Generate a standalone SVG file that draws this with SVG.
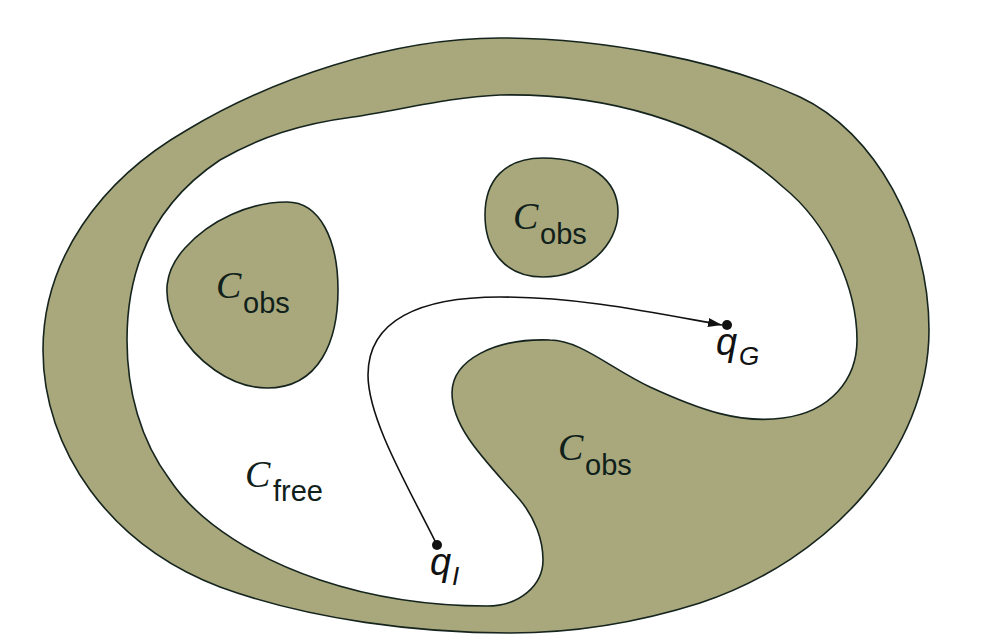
<svg xmlns="http://www.w3.org/2000/svg" width="1005" height="641" viewBox="0 0 1005 641">
<style>
.ring{fill:#a9a87d;stroke:#16241e;stroke-width:1.6}
.obs{fill:#a9a87d;stroke:#16241e;stroke-width:1.6}
.free{fill:#ffffff;stroke:#16241e;stroke-width:1.6}
.conn{fill:none;stroke:#111111;stroke-width:1.6}
.dot{fill:#111111}
.C{font-family:"Liberation Serif",serif;font-style:italic;font-size:38px;fill:#10201a}
.sub{font-family:"Liberation Sans",sans-serif;font-size:29px;fill:#10201a}
.q{font-family:"Liberation Sans",sans-serif;font-style:italic;font-size:38px;fill:#111111}
.qs{font-family:"Liberation Sans",sans-serif;font-style:italic;font-size:26px;fill:#111111}
</style>
<defs>
<marker id="arrow" markerUnits="userSpaceOnUse" markerWidth="16" markerHeight="12" refX="14" refY="4.5" orient="auto">
<path d="M0,0 L14,4.5 L0,9 Z" fill="#111111"/>
</marker>
</defs>
<rect x="0" y="0" width="1005" height="641" fill="#ffffff"/>
<g id="outer-ring">
<path class="ring" d="M500,38 C600,38 720,60 800,97 C875,132 929,230 929,330 C929,450 830,560 700,603 C640,622 580,633 510,633 C420,633 310,620 220,587 C110,545 43,450 43,350 C43,260 100,180 187,130 C270,80 390,38 500,38 Z"/>
</g>
<g id="free-space">
<path class="free" d="M500,95 C600,93 710,120 783,187 C830,225 857,290 857,340 C857,380 830,412 783,418 C740,424 700,410 650,387 C610,368 580,340 550,340 C495,338 452,360 452,393 C452,430 490,465 520,500 C535,518 543,540 543,560 C543,585 520,606 487,606 C440,606 380,600 320,580 C260,560 200,525 170,480 C140,440 127,390 127,340 C127,260 160,200 220,160 C260,137 300,124 353,117 C400,110 450,97 500,95 Z"/>
</g>
<g id="obstacle-left">
<path class="obs" d="M287,202 C320,202 338,240 338,290 C338,340 320,388 267,388 C230,388 195,360 178,330 C160,295 165,270 185,248 C210,220 250,202 287,202 Z"/>
<text class="C" x="216" y="298">C</text>
<text class="sub" x="243" y="313">obs</text>
</g>
<g id="obstacle-top">
<path class="obs" d="M543,158 C590,158 618,180 618,212 C618,245 585,277 543,277 C505,277 485,250 485,215 C485,180 505,158 543,158 Z"/>
<text class="C" x="513" y="229">C</text>
<text class="sub" x="540" y="244">obs</text>
</g>
<g id="obstacle-bottom">
<text class="C" x="558" y="460">C</text>
<text class="sub" x="585" y="475">obs</text>
</g>
<g id="free-label">
<text class="C" x="245" y="487">C</text>
<text class="sub" x="273" y="501">free</text>
</g>
<g id="connectors">
<path class="conn" marker-end="url(#arrow)" d="M437,545 C410,490 368,420 368,375 C368,320 420,297 500,297 C580,297 650,312 722,325"/>
</g>
<g id="q-init">
<circle class="dot" cx="437" cy="545" r="5"/>
<text class="q" x="430" y="575">q</text>
<text class="qs" x="452" y="585">I</text>
</g>
<g id="q-goal">
<circle class="dot" cx="727" cy="325" r="5"/>
<text class="q" x="716" y="355">q</text>
<text class="qs" x="739" y="365">G</text>
</g>
</svg>
